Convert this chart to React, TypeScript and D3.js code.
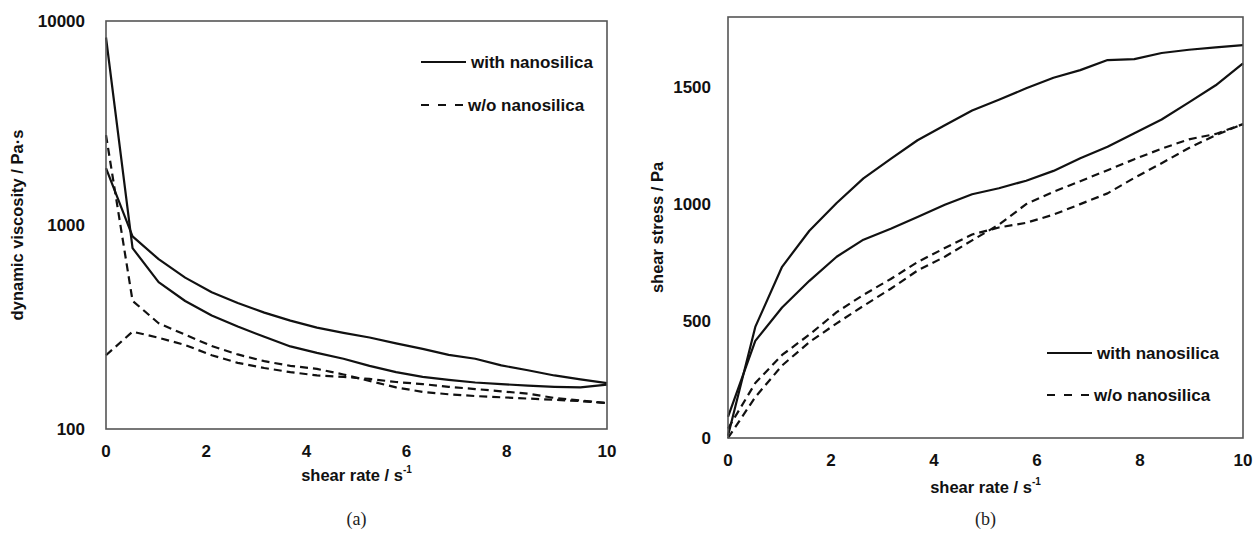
import React from "react";
import * as d3 from "d3";

// shear rate samples (s^-1)
const shearRate = [0, 0.53, 1.05, 1.58, 2.11, 2.63, 3.16, 3.68, 4.21, 4.74, 5.26, 5.79, 6.32, 6.84, 7.37, 7.89, 8.42, 8.95, 9.47, 10];

// (a) dynamic viscosity, Pa·s
const viscWithA = [8300, 770, 525, 424, 360, 318, 283, 254, 236, 221, 204, 190, 180, 174, 169, 166, 163, 161, 160, 165];
const viscWithB = [1900, 880, 680, 552, 468, 415, 372, 340, 314, 296, 281, 263, 247, 231, 221, 205, 194, 183, 175, 168];
const viscWithoutA = [2760, 425, 330, 290, 255, 232, 215, 204, 197, 185, 172, 160, 152, 148, 145, 143, 141, 139, 137, 134];
const viscWithoutB = [230, 300, 280, 258, 230, 211, 199, 190, 183, 180, 176, 170, 166, 161, 157, 153, 149, 142, 138, 134];

// (b) shear stress, Pa
const stressWithA = [10, 475, 732, 886, 1005, 1110, 1193, 1273, 1337, 1400, 1446, 1495, 1540, 1573, 1616, 1620, 1646, 1660, 1670, 1680];
const stressWithB = [90, 415, 558, 672, 775, 848, 895, 945, 997, 1042, 1068, 1100, 1142, 1196, 1245, 1303, 1362, 1435, 1508, 1602];
const stressWithoutA = [0, 175, 310, 410, 490, 565, 638, 716, 775, 845, 912, 1000, 1053, 1098, 1145, 1192, 1237, 1277, 1300, 1342];
const stressWithoutB = [40, 235, 355, 442, 538, 612, 680, 752, 812, 870, 900, 920, 955, 1000, 1046, 1112, 1175, 1240, 1295, 1342];

const xTicks = [0, 2, 4, 6, 8, 10];
const viscTicks = [100, 1000, 10000];
const stressTicks = [0, 500, 1000, 1500];

const legendLabels = ["with nanosilica", "w/o nanosilica"];

const FONT = "'Liberation Sans', Arial, sans-serif";
const DASH = "8,5";
const LEGEND_DASH = "8,9";

function Panel({ x0, x1, yTop, yBot, yScaleType, yDomain, yTicks, series, yTitle, yTitleX, tickLabelRight, xTickY, xTitleY, legendX, legendY, caption }: any) {
  const x = d3.scaleLinear().domain([0, 10]).range([x0, x1]);
  const y = yScaleType === "log"
    ? d3.scaleLog().domain(yDomain).range([yBot, yTop])
    : d3.scaleLinear().domain(yDomain).range([yBot, yTop]);
  const line = d3.line<number>().x((_, i) => x(shearRate[i])).y((d) => y(d));
  const cx = (x0 + x1) / 2;
  const cy = (yTop + yBot) / 2;
  return (
    <g>
      {series.map((s: any, i: number) => (
        <path key={i} d={line(s.values) || ""} fill="none" stroke="#111" strokeWidth={2.2}
          strokeDasharray={s.dashed ? DASH : undefined} strokeLinejoin="round" />
      ))}
      <rect x={x0} y={yTop} width={x1 - x0} height={yBot - yTop} fill="none" stroke="#555" strokeWidth={1.6} />
      {yTicks.map((t: number) => (
        <text key={t} x={tickLabelRight} y={y(t)} textAnchor="end" dominantBaseline="central"
          fontFamily={FONT} fontWeight="bold" fontSize={17} fill="#111">{t}</text>
      ))}
      {xTicks.map((t) => (
        <text key={t} x={x(t)} y={xTickY} textAnchor="middle" dominantBaseline="central"
          fontFamily={FONT} fontWeight="bold" fontSize={17} fill="#111">{t}</text>
      ))}
      <text x={cx} y={xTitleY} textAnchor="middle" dominantBaseline="central" fontFamily={FONT}
        fontWeight="bold" fontSize={16.5} fill="#111">
        shear rate / s<tspan fontSize={10} dy={-6}>-1</tspan>
      </text>
      <text transform={`translate(${yTitleX},${cy}) rotate(-90)`} textAnchor="middle" dominantBaseline="central"
        fontFamily={FONT} fontWeight="bold" fontSize={16.5} fill="#111">{yTitle}</text>
      {legendLabels.map((lab, i) => (
        <g key={lab}>
          <line x1={legendX} x2={legendX + 45} y1={legendY[i]} y2={legendY[i]} stroke="#111" strokeWidth={2.2}
            strokeDasharray={i === 1 ? LEGEND_DASH : undefined} />
          <text x={legendX + (i === 0 ? 50 : 47)} y={legendY[i]} dominantBaseline="central" fontFamily={FONT}
            fontWeight="bold" fontSize={17} fill="#111">{lab}</text>
        </g>
      ))}
      <text x={cx} y={519} textAnchor="middle" dominantBaseline="central"
        fontFamily="'Liberation Serif', 'DejaVu Serif', serif" fontSize={18} fill="#222">{caption}</text>
    </g>
  );
}

export default function App() {
  return (
    <div style={{ position: "fixed", left: 0, top: 0, width: 1253, height: 533, background: "#fff" }}>
      <svg width={1253} height={533} style={{ display: "block" }}>
        <rect width={1253} height={533} fill="#fff" />
        <Panel x0={106} x1={607} yTop={21} yBot={429} yScaleType="log" yDomain={[100, 10000]}
          yTicks={viscTicks} yTitle="dynamic viscosity / Pa·s" yTitleX={17} tickLabelRight={85}
          xTickY={451} xTitleY={475} legendX={421} legendY={[62, 105]} caption="(a)"
          series={[
            { values: viscWithA, dashed: false },
            { values: viscWithB, dashed: false },
            { values: viscWithoutA, dashed: true },
            { values: viscWithoutB, dashed: true },
          ]} />
        <Panel x0={728} x1={1243} yTop={17} yBot={438} yScaleType="linear" yDomain={[0, 1800]}
          yTicks={stressTicks} yTitle="shear stress / Pa" yTitleX={657} tickLabelRight={711}
          xTickY={460} xTitleY={487} legendX={1047} legendY={[353, 395]} caption="(b)"
          series={[
            { values: stressWithA, dashed: false },
            { values: stressWithB, dashed: false },
            { values: stressWithoutA, dashed: true },
            { values: stressWithoutB, dashed: true },
          ]} />
      </svg>
    </div>
  );
}
